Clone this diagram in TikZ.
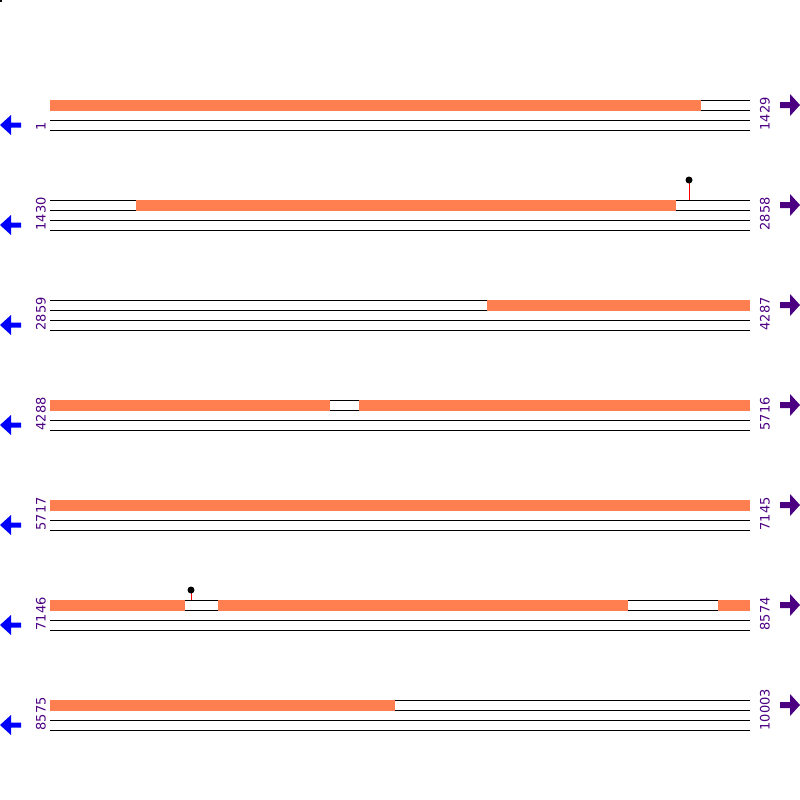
\documentclass[tikz,border=0pt]{standalone}
\usepackage{fontspec}
\setmainfont{DejaVu Sans}
\definecolor{seg}{HTML}{FF7F50}
\definecolor{lab}{HTML}{4B0082}
\definecolor{arrL}{HTML}{0000FF}
\begin{document}
\begin{tikzpicture}[x=1pt,y=-1pt,line width=1pt,
  labeltext/.style={rotate=90,anchor=west,inner sep=0pt,text=lab,font=\fontsize{13}{13}\selectfont},
  orangeseg/.style={fill=seg,draw=none},
  stick/.style={draw=red,line width=1pt},
  knob/.style={fill=black,draw=none}]
\useasboundingbox (0,0) rectangle (800,800);
\fill[black] (0,0) rectangle (2,2);
\foreach \r/\ll/\rl in {0/1/1429,1/1430/2858,2/2859/4287,3/4288/5716,4/5717/7145,5/7146/8574,6/8575/10003}{
  \pgfmathsetmacro{\y}{100+100*\r}
  \draw (50,\y+0.5) -- (750,\y+0.5);
  \draw (50,\y+10.5) -- (750,\y+10.5);
  \draw (50,\y+20.5) -- (750,\y+20.5);
  \draw (50,\y+30.5) -- (750,\y+30.5);
  \node[labeltext] (l\r) at (41,\y+31) {\ll};
  \node[labeltext] (r\r) at (765,\y+31) {\rl};
  \fill[arrL] (0,\y+25) -- (11,\y+15) -- (11,\y+22.5) -- (21,\y+22.5) -- (21,\y+27.5) -- (11,\y+27.5) -- (11,\y+35) -- cycle;
  \fill[lab] (800,\y+5) -- (790,\y-6) -- (790,\y+2) -- (780,\y+2) -- (780,\y+8) -- (790,\y+8) -- (790,\y+16) -- cycle;
}
% row 0
\fill[orangeseg] (50,100) rectangle (701,111);
% row 1
\fill[orangeseg] (136,200) rectangle (676,211);
\draw[stick] (689,181) -- (689,200);
\fill[knob] (689,180) circle (3.5);
% row 2
\fill[orangeseg] (487,300) rectangle (750,311);
% row 3
\fill[orangeseg] (50,400) rectangle (330,411);
\fill[orangeseg] (359,400) rectangle (750,411);
% row 4
\fill[orangeseg] (50,500) rectangle (750,511);
% row 5
\fill[orangeseg] (50,600) rectangle (185,611);
\fill[orangeseg] (218,600) rectangle (628,611);
\fill[orangeseg] (718,600) rectangle (750,611);
\draw[stick] (191,591) -- (191,600);
\fill[knob] (191,590) circle (3.5);
% row 6
\fill[orangeseg] (50,700) rectangle (395,711);
\end{tikzpicture}
\end{document}
